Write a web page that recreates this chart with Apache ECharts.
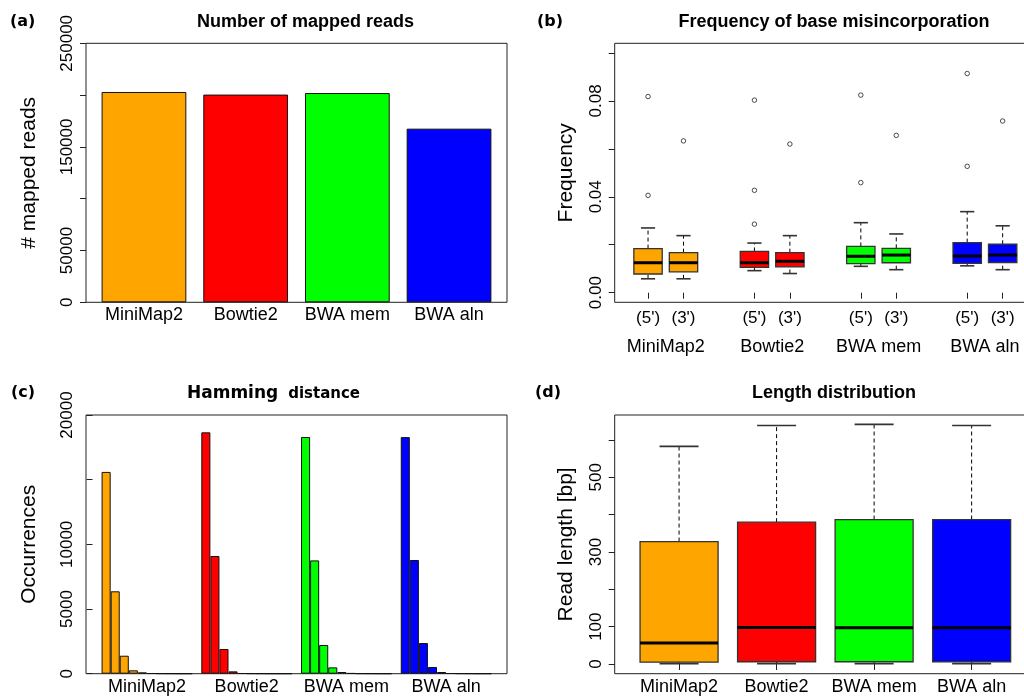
<!DOCTYPE html>
<html>
<head>
<meta charset="utf-8">
<script src="https://cdn.jsdelivr.net/npm/echarts@6/dist/echarts.min.js"></script>
<style>
  html, body { margin: 0; padding: 0; background: #fff; }
  #chart { width: 1024px; height: 698px; }
</style>
</head>
<body>
<div id="chart"></div>
<script>
  const tools = ['MiniMap2', 'Bowtie2', 'BWA mem', 'BWA aln'];
  const toolColors = ['#ffa500', '#ff0000', '#00ff00', '#0000ff'];

  // (a) number of mapped reads
  const mappedReads = [203000, 200500, 202000, 167600];
  const mappedTicks = [0, 50000, 100000, 150000, 200000, 250000];
  const mappedLabels = [0, 50000, 150000, 250000];

  // (b) base misincorporation: [min, q1, median, q3, max]
  const ends = ["(5')", "(3')"];
  const misinc5 = [
    [0.0058, 0.0078, 0.0125, 0.0184, 0.0270],
    [0.0092, 0.0106, 0.0125, 0.0172, 0.0207],
    [0.0110, 0.0121, 0.0152, 0.0193, 0.0292],
    [0.0112, 0.0122, 0.0153, 0.0209, 0.0338],
  ];
  const misinc3 = [
    [0.0058, 0.0087, 0.0125, 0.0167, 0.0238],
    [0.0080, 0.0108, 0.0131, 0.0167, 0.0238],
    [0.0096, 0.0125, 0.0157, 0.0185, 0.0245],
    [0.0096, 0.0126, 0.0157, 0.0202, 0.0279],
  ];
  const outliers5 = [[0.0818, 0.0406], [0.0803, 0.0427, 0.0286], [0.0824, 0.0459], [0.0914, 0.0527]];
  const outliers3 = [[0.0633], [0.0620], [0.0656], [0.0716]];
  const misincTicks = [0, 0.02, 0.04, 0.06, 0.08, 0.1];
  const misincLabels = [0, 0.04, 0.08];

  // (c) hamming distance, bins 0..9
  const hamming = [
    [15600, 6370, 1390, 260, 100, 30, 15, 10, 5, 5],
    [18660, 9100, 1910, 180, 30, 15, 10, 5, 5, 5],
    [18300, 8760, 2220, 490, 130, 40, 15, 10, 5, 5],
    [18290, 8790, 2370, 520, 130, 30, 15, 10, 5, 5],
  ];
  const hammingTicks = [0, 5000, 10000, 15000, 20000];
  const hammingLabels = [0, 5000, 10000, 20000];

  // (d) read length: [min, q1, median, q3, max]
  const readLength = [
    [1, 5, 56, 328, 583],
    [1, 6, 98, 380, 639],
    [1, 6, 97, 387, 642],
    [1, 6, 97, 387, 639],
  ];
  const lengthTicks = [0, 100, 200, 300, 400, 500, 600];
  const lengthLabels = [0, 100, 300, 500];

  // R-style slot positions
  const barPos = (i) => 0.7 + 1.2 * i;
  const boxPos = (i, e) => 1 + 3 * i + e;
  const histPos = (i, k) => 1.5 + 11 * i + k;

  const FONT = 'Liberation Sans';
  const BOLD = 'DejaVu Sans';
  const chart = echarts.init(document.getElementById('chart'), null, { renderer: 'canvas' });

  const frame = {
    show: true, borderColor: '#222', borderWidth: 1, backgroundColor: 'transparent',
    outerBoundsMode: 'none', containLabel: false,
  };

  function yAxis(gridIndex, min, max, ticks, labels, fmt, name, nameGap) {
    return {
      type: 'value', gridIndex, min, max,
      axisLine: { show: false },
      axisTick: { show: true, length: 6, customValues: ticks, lineStyle: { color: '#222' } },
      axisLabel: { customValues: labels, rotate: 90, margin: 10, formatter: fmt, color: '#000', fontFamily: FONT, fontSize: 17 },
      splitLine: { show: false },
      name, nameLocation: 'middle', nameGap,
      nameTextStyle: { fontFamily: FONT, fontSize: 21, color: '#000' },
    };
  }

  function xAxis(gridIndex, min, max, labels, fmt, opts) {
    return Object.assign({
      type: 'value', gridIndex, min, max, position: 'bottom',
      axisLine: { show: false },
      axisTick: { show: false },
      axisLabel: { customValues: labels, margin: 4, formatter: fmt, color: '#000', fontFamily: FONT, fontSize: 18 },
      splitLine: { show: false },
    }, opts);
  }

  function heading(text, cx, cy, size, family, extra) {
    return Object.assign({
      text, left: cx, top: cy - size / 2, textAlign: 'center', padding: 0,
      textStyle: { fontFamily: family, fontSize: size, fontWeight: 'bold', color: '#000' },
    }, extra);
  }

  function tag(text, x, cy) {
    return {
      text, left: x, top: cy - 8, padding: 0,
      textStyle: { fontFamily: BOLD, fontSize: 16, fontWeight: 'bold', color: '#000' },
    };
  }

  function renderBox(params, api) {
    const x = api.value(0);
    const half = api.size([0.8, 0])[0] / 2;
    const cap = half / 2;
    const p = [1, 2, 3, 4, 5].map((d) => api.coord([x, api.value(d)]));
    const cx = p[0][0];
    const dashed = { stroke: '#000', lineWidth: 1, lineDash: [4, 3] };
    const capStyle = { stroke: '#333', lineWidth: 1.6 };
    const line = (x1, y1, x2, y2, style) => ({ type: 'line', shape: { x1, y1, x2, y2 }, style });
    return {
      type: 'group',
      children: [
        line(cx, p[0][1], cx, p[1][1], dashed),
        line(cx, p[3][1], cx, p[4][1], dashed),
        line(cx - cap, p[0][1], cx + cap, p[0][1], capStyle),
        line(cx - cap, p[4][1], cx + cap, p[4][1], capStyle),
        {
          type: 'rect',
          shape: { x: cx - half, y: p[3][1], width: 2 * half, height: p[1][1] - p[3][1] },
          style: { fill: api.visual('color'), stroke: '#333', lineWidth: 1.3 },
        },
        line(cx - half, p[2][1], cx + half, p[2][1], { stroke: '#000', lineWidth: 3 }),
      ],
    };
  }

  const series = [];

  // (a)
  series.push({
    type: 'bar', xAxisIndex: 0, yAxisIndex: 0, barWidth: '83.33%',
    itemStyle: { borderColor: '#111', borderWidth: 1 },
    data: mappedReads.map((v, i) => ({ value: [barPos(i), v], itemStyle: { color: toolColors[i] } })),
  });

  // (b)
  tools.forEach((t, i) => {
    series.push({
      type: 'custom', name: t, xAxisIndex: 1, yAxisIndex: 1,
      itemStyle: { color: toolColors[i] },
      renderItem: renderBox,
      data: [[boxPos(i, 0), ...misinc5[i]], [boxPos(i, 1), ...misinc3[i]]],
    });
  });
  const outlierData = [];
  tools.forEach((t, i) => {
    outliers5[i].forEach((v) => outlierData.push([boxPos(i, 0), v]));
    outliers3[i].forEach((v) => outlierData.push([boxPos(i, 1), v]));
  });
  series.push({
    type: 'scatter', xAxisIndex: 1, yAxisIndex: 1,
    symbol: 'circle', symbolSize: 4.5,
    itemStyle: { color: '#fff', borderColor: '#222', borderWidth: 1 },
    data: outlierData,
  });

  // (c)
  const histData = [];
  hamming.forEach((bins, i) => {
    bins.forEach((v, k) => histData.push({ value: [histPos(i, k), v], itemStyle: { color: toolColors[i] } }));
  });
  series.push({
    type: 'bar', xAxisIndex: 3, yAxisIndex: 2, barWidth: '100%',
    itemStyle: { borderColor: '#111', borderWidth: 1 },
    data: histData,
  });

  // (d)
  tools.forEach((t, i) => {
    series.push({
      type: 'custom', name: t, xAxisIndex: 4, yAxisIndex: 3,
      itemStyle: { color: toolColors[i] },
      renderItem: renderBox,
      data: [[i + 1, ...readLength[i]]],
    });
  });

  const endPositions = tools.flatMap((t, i) => [boxPos(i, 0), boxPos(i, 1)]);

  chart.setOption({
    animation: false,
    backgroundColor: '#fff',
    title: [
      heading('Number of mapped reads', 305.5, 22, 18, FONT),
      heading('Frequency of base misincorporation', 834, 22, 18, FONT),
      heading('{a|Hamming}  {b|distance}', 273.5, 393.5, 17, BOLD, {
        textStyle: {
          rich: {
            a: { fontFamily: BOLD, fontSize: 17, fontWeight: 'bold', color: '#000' },
            b: { fontFamily: BOLD, fontSize: 15, fontWeight: 'bold', color: '#000' },
          },
        },
      }),
      heading('Length distribution', 834, 393.5, 18, FONT),
      tag('(a)', 10, 22),
      tag('(b)', 537, 22),
      tag('(c)', 11, 392.5),
      tag('(d)', 535, 392.5),
    ],
    grid: [
      Object.assign({ left: 86, top: 43.3, width: 421, height: 259 }, frame),
      Object.assign({ left: 614.7, top: 43.3, width: 421.3, height: 259 }, frame),
      Object.assign({ left: 86, top: 415, width: 421, height: 258.7 }, frame),
      Object.assign({ left: 614.7, top: 415, width: 421.3, height: 258.7 }, frame),
    ],
    xAxis: [
      xAxis(0, 0.016, 4.984, mappedReads.map((v, i) => barPos(i)),
        (v) => tools[Math.round((v - 0.7) / 1.2)]),
      xAxis(1, 0.06, 11.94, endPositions, null, {
        axisTick: { show: true, length: 6, customValues: endPositions, lineStyle: { color: '#222' } },
        axisLabel: { customValues: endPositions, margin: 8,
          formatter: (v) => ends[(Math.round(v) - 1) % 3], color: '#000', fontFamily: FONT, fontSize: 17 },
      }),
      xAxis(1, 0.06, 11.94, tools.map((t, i) => boxPos(i, 0.5)),
        (v) => tools[Math.round((v - 1.5) / 3)], { offset: 32 }),
      xAxis(2, -0.72, 45.72, tools.map((t, i) => histPos(i, 4.5)),
        (v) => tools[Math.round((v - 6) / 11)]),
      xAxis(3, 0.34, 4.66, tools.map((t, i) => i + 1),
        (v) => tools[Math.round(v) - 1], {
          axisTick: { show: true, length: 6, customValues: tools.map((t, i) => i + 1), lineStyle: { color: '#222' } },
        }),
    ],
    yAxis: [
      yAxis(0, 0, 250000, mappedTicks, mappedLabels, (v) => String(v), '# mapped reads', 46),
      yAxis(1, -0.004, 0.104, misincTicks, misincLabels, (v) => v.toFixed(2), 'Frequency', 38),
      yAxis(2, 0, 20000, hammingTicks, hammingLabels, (v) => String(v), 'Occurrences', 46),
      yAxis(3, -26, 667, lengthTicks, lengthLabels, (v) => String(v), 'Read length [bp]', 38),
    ],
    series,
  });
</script>
</body>
</html>
